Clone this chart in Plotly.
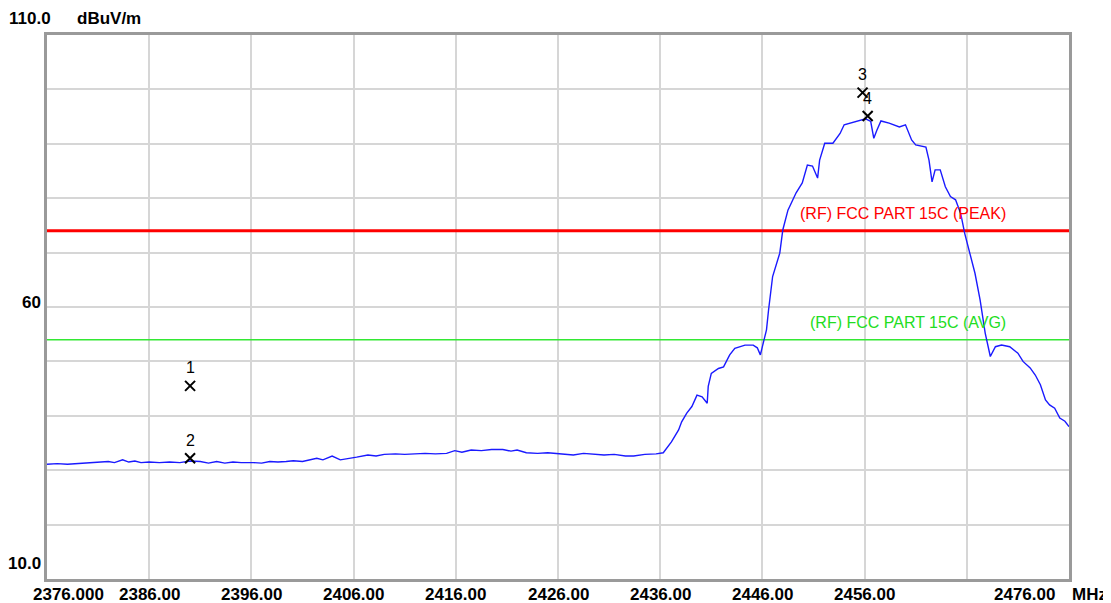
import plotly.graph_objects as go

# ---- data ----
freq_mhz = [
    2376.0, 2377.0, 2378.0, 2379.0, 2380.0, 2381.0, 2382.0, 2382.6, 2383.4, 2384.0,
    2384.6, 2385.2, 2386.0, 2387.0, 2388.0, 2389.0, 2390.0, 2391.0, 2391.8, 2392.6,
    2393.4, 2394.2, 2395.0, 2396.2, 2397.0, 2397.8, 2398.6, 2399.4, 2400.1, 2401.0,
    2401.8, 2402.4, 2403.0, 2403.9, 2404.7, 2405.5, 2406.3, 2407.4, 2408.2, 2409.0,
    2410.1, 2411.0, 2412.0, 2413.0, 2414.0, 2415.1, 2415.9, 2416.6, 2417.5, 2418.5,
    2419.5, 2420.6, 2421.4, 2422.0, 2422.9, 2424.0, 2425.0, 2425.6, 2426.5, 2427.5,
    2428.5, 2429.5, 2430.5, 2431.5, 2432.6, 2433.4, 2434.5, 2435.6, 2436.3, 2437.1,
    2437.8, 2438.1, 2438.6, 2439.1, 2439.6, 2440.1, 2440.6, 2440.7, 2441.0, 2441.7,
    2442.2, 2442.8, 2443.3, 2444.3, 2445.1, 2445.5, 2445.8, 2446.1, 2446.4, 2446.6,
    2447.0, 2447.7, 2448.0, 2448.5, 2449.3, 2449.9, 2450.4, 2450.9, 2451.4, 2451.6,
    2452.1, 2452.9, 2453.6, 2454.0, 2455.1, 2456.1, 2456.6, 2456.9, 2457.2, 2457.6,
    2458.4, 2459.4, 2460.0, 2460.6, 2461.0, 2462.0, 2462.3, 2462.6, 2462.9, 2463.4,
    2463.9, 2464.4, 2464.9, 2465.4, 2465.8, 2466.3, 2466.8, 2467.3, 2467.8, 2468.3,
    2468.8, 2469.4, 2470.2, 2471.0, 2471.5, 2472.2, 2472.7, 2473.2, 2473.7, 2474.1,
    2474.6, 2475.1, 2475.6, 2476.0,
]
level_dbuv = [
    31.1, 31.2, 31.1, 31.2, 31.3, 31.4, 31.6, 31.4, 31.9, 31.5,
    31.7, 31.4, 31.5, 31.4, 31.5, 31.4, 31.7, 31.6, 31.3, 31.6,
    31.3, 31.5, 31.4, 31.4, 31.3, 31.6, 31.5, 31.6, 31.75, 31.6,
    32.0, 32.2, 31.9, 32.6, 31.9, 32.1, 32.4, 32.8, 32.6, 32.9,
    33.0, 32.9, 33.0, 33.1, 33.0, 33.1, 33.6, 33.3, 33.7, 33.6,
    33.8, 33.8, 33.5, 33.7, 33.2, 33.1, 33.2, 33.1, 32.9, 32.8,
    33.1, 33.0, 32.8, 32.9, 32.6, 32.6, 32.9, 33.0, 33.2, 35.2,
    37.4, 38.9, 40.5, 41.7, 43.8, 43.5, 42.3, 45.4, 47.8, 48.7,
    49.0, 51.2, 52.4, 53.0, 53.0, 52.5, 51.2, 53.5, 55.8, 59.4,
    65.6, 69.9, 74.2, 77.8, 81.0, 82.8, 86.1, 85.9, 83.7, 87.0,
    90.1, 90.1, 91.9, 93.5, 94.1, 94.6, 94.1, 91.0, 92.5, 94.2,
    93.8, 93.1, 93.5, 90.7, 89.8, 89.4, 87.0, 83.0, 85.2, 85.2,
    82.1, 80.3, 79.7, 77.2, 73.5, 69.9, 66.2, 61.3, 55.2, 50.9,
    52.7, 53.0, 52.7, 51.5, 50.0, 48.8, 47.5, 45.7, 42.9, 42.0,
    41.4, 39.6, 39.0, 38.0,
]

limit_peak = 74.0
limit_avg = 54.0
limit_peak_label = "(RF) FCC PART 15C (PEAK)"
limit_avg_label = "(RF) FCC PART 15C (AVG)"

marker_ids = ["1", "2", "3", "4"]
marker_freq = [2390.0, 2390.0, 2455.8, 2456.3]
marker_level = [45.5, 32.2, 99.4, 95.1]

x_min, x_max = 2376.0, 2476.0
y_min, y_max = 10.0, 110.0
x_tick_labels = ["2376.000", "2386.00", "2396.00", "2406.00", "2416.00",
                 "2426.00", "2436.00", "2446.00", "2456.00", "2476.00"]
x_tick_label_pos = [2378.15, 2386.0, 2396.0, 2406.0, 2416.0,
                    2426.0, 2436.0, 2446.0, 2456.0, 2471.6]
y_unit = "dBuV/m"
x_unit = "MHz"

# ---- figure ----
fig = go.Figure()

fig.add_trace(go.Scatter(x=[x_min, x_max], y=[limit_peak, limit_peak], mode="lines",
                         line=dict(color="#ff0000", width=3), hoverinfo="skip"))
fig.add_trace(go.Scatter(x=[x_min, x_max], y=[limit_avg, limit_avg], mode="lines",
                         line=dict(color="#33e833", width=1.5), hoverinfo="skip"))
fig.add_trace(go.Scatter(x=freq_mhz, y=level_dbuv, mode="lines",
                         line=dict(color="#1a1aff", width=1.4)))
fig.add_trace(go.Scatter(x=marker_freq, y=marker_level, mode="markers",
                         marker=dict(symbol="x-thin", size=10,
                                     line=dict(color="black", width=2))))

ann = []
lab_font = dict(family="Liberation Sans, Arial, sans-serif", size=16)
for mid, mf, ml in zip(marker_ids, marker_freq, marker_level):
    ann.append(dict(x=mf, y=ml, text=mid, showarrow=False, yshift=18,
                    font=dict(lab_font, color="black")))

ann.append(dict(x=2470.0, y=limit_peak, text=limit_peak_label, showarrow=False,
                xanchor="right", yshift=17, font=dict(lab_font, color="#ff0000")))
ann.append(dict(x=2470.0, y=limit_avg, text=limit_avg_label, showarrow=False,
                xanchor="right", yshift=17, font=dict(lab_font, color="#22dd22")))

bold = dict(family="Liberation Sans, Arial, sans-serif", size=17, color="black")
for t, p in zip(x_tick_labels, x_tick_label_pos):
    ann.append(dict(x=p, y=0, xref="x", yref="paper", text="<b>%s</b>" % t,
                    showarrow=False, yanchor="middle", yshift=-15, font=bold))
ann.append(dict(x=x_max, y=0, xref="x", yref="paper", text="<b>%s</b>" % x_unit,
                showarrow=False, xanchor="left", yanchor="middle", xshift=1,
                yshift=-15, font=bold))

ann.append(dict(x=0, xref="paper", y=y_max, text="<b>110.0</b>", showarrow=False,
                xanchor="right", yanchor="middle", xshift=6, yshift=17, font=bold))
ann.append(dict(x=0, xref="paper", y=y_max, text="<b>%s</b>" % y_unit, showarrow=False,
                xanchor="left", yanchor="middle", xshift=28, yshift=17, font=bold))
ann.append(dict(x=0, xref="paper", y=60, text="<b>60</b>", showarrow=False,
                xanchor="right", yanchor="middle", xshift=-4, yshift=5, font=bold))
ann.append(dict(x=0, xref="paper", y=y_min, text="<b>10.0</b>", showarrow=False,
                xanchor="right", yanchor="middle", xshift=-4, yshift=16, font=bold))

# page body has an 8px margin, so the figure is drawn at (8, 8)
fig.update_layout(
    width=1103, height=595,
    margin=dict(l=39, r=42, t=27, b=24),
    paper_bgcolor="white", plot_bgcolor="white",
    showlegend=False,
    annotations=ann,
    xaxis=dict(range=[x_min, x_max], dtick=10, tick0=x_min, showgrid=True,
               gridcolor="#d6d6d6", gridwidth=2, showticklabels=False, ticks="",
               showline=True, linecolor="#9a9a9a", linewidth=3, mirror=True,
               zeroline=False),
    yaxis=dict(range=[y_min, y_max], dtick=10, tick0=y_min, showgrid=True,
               gridcolor="#d6d6d6", gridwidth=2, showticklabels=False, ticks="",
               showline=True, linecolor="#9a9a9a", linewidth=3, mirror=True,
               zeroline=False),
)

fig.write_html("out.html")
